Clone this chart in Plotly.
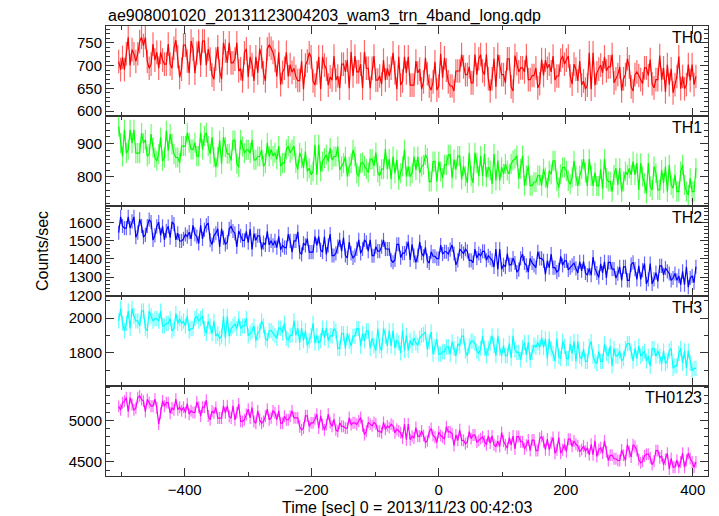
import plotly.graph_objects as go
from plotly.subplots import make_subplots

TITLE = "ae908001020_20131123004203_wam3_trn_4band_long.qdp"
X_TITLE = "Time [sec] 0 = 2013/11/23 00:42:03"
Y_TITLE = "Counts/sec"

T_START = -504   # first bin centre (s)
BIN_SEC = 3      # bin width (s)

BANDS = ["TH0", "TH1", "TH2", "TH3", "TH0123"]
COLORS = ["#ff0000", "#00ff00", "#0000ff", "#00ffff", "#ff00ff"]
ERR_COLORS = ["rgba(255,0,0,0.6)", "rgba(0,255,0,0.6)", "rgba(0,0,255,0.6)",
              "rgba(0,255,255,0.6)", "rgba(255,0,255,0.6)"]
ERRORS = [26, 30, 39, 44, 72]

Y_RANGES = [[589, 787], [713, 982], [1196, 1692], [1609, 2127], [4329, 5415]]
Y_DTICK = [50, 100, 100, 200, 500]
Y_MINOR = [10, 20, 20, 100, 100]

TH0 = [
    709, 691, 718, 691, 726, 762, 700, 735, 726, 709, 726, 753, 762, 744, 762, 709,
    694, 703, 747, 712, 729, 694, 729, 712, 703, 703, 747, 703, 694, 738, 756, 720,
    674, 692, 745, 745, 710, 683, 754, 736, 683, 727, 754, 701, 754, 754, 701, 736,
    714, 679, 670, 714, 741, 688, 670, 750, 732, 706, 750, 706, 706, 714, 750, 688,
    693, 666, 728, 737, 675, 719, 702, 666, 719, 684, 737, 719, 684, 666, 737, 746,
    738, 729, 711, 676, 729, 658, 685, 694, 729, 676, 702, 685, 694, 676, 667, 667,
    710, 648, 701, 710, 728, 719, 666, 657, 684, 719, 648, 719, 701, 692, 657, 675,
    668, 721, 668, 677, 650, 703, 703, 686, 712, 650, 730, 677, 721, 686, 686, 703,
    650, 730, 694, 694, 650, 694, 721, 668, 668, 677, 659, 712, 668, 694, 677, 694,
    728, 684, 648, 719, 657, 666, 719, 684, 719, 657, 657, 657, 710, 684, 692, 648,
    664, 717, 682, 655, 646, 664, 708, 646, 655, 726, 673, 717, 690, 664, 655, 655,
    644, 688, 688, 688, 724, 697, 680, 680, 697, 662, 662, 724, 680, 715, 724, 688,
    680, 724, 671, 644, 671, 715, 653, 724, 697, 680, 680, 662, 715, 715, 653, 644,
    722, 704, 686, 695, 695, 686, 722, 669, 669, 678, 678, 695, 651, 660, 713, 678,
    712, 694, 703, 686, 721, 668, 677, 677, 712, 721, 703, 712, 721, 677, 659, 703,
    692, 666, 710, 657, 666, 648, 657, 728, 648, 728, 657, 684, 692, 701, 684, 719,
    688, 697, 697, 724, 662, 671, 680, 697, 644, 671, 680, 715, 697, 653, 644, 680,
    686, 678, 669, 660, 695, 695, 678, 713, 660, 651, 669, 669, 722, 669, 695, 642,
    702, 658, 693, 640, 658, 676, 720, 649, 676, 649, 658, 702, 667, 702, 658, 676,
]

TH1 = [
    951, 901, 861, 941, 871, 881, 941, 901, 941, 871, 871, 871, 931, 901, 911, 861,
    868, 928, 888, 858, 848, 868, 918, 848, 858, 938, 878, 928, 898, 868, 858, 858,
    842, 892, 892, 892, 932, 902, 882, 882, 902, 862, 862, 932, 882, 922, 932, 892,
    869, 919, 859, 829, 859, 909, 839, 919, 889, 869, 869, 849, 909, 909, 839, 829,
    911, 891, 871, 881, 881, 871, 911, 851, 851, 861, 861, 881, 831, 841, 901, 861,
    882, 862, 872, 852, 892, 832, 842, 842, 882, 892, 872, 882, 892, 842, 822, 872,
    856, 826, 876, 816, 826, 806, 816, 896, 806, 896, 816, 846, 856, 866, 846, 886,
    851, 861, 861, 891, 821, 831, 841, 861, 801, 831, 841, 881, 861, 811, 801, 841,
    843, 833, 823, 813, 853, 853, 833, 873, 813, 803, 823, 823, 883, 823, 853, 793,
    861, 811, 851, 791, 811, 831, 881, 801, 831, 801, 811, 861, 821, 861, 811, 831,
    836, 866, 856, 786, 786, 846, 846, 786, 846, 816, 796, 836, 836, 866, 866, 796,
    852, 822, 862, 862, 792, 832, 802, 782, 872, 802, 782, 872, 842, 802, 862, 802,
    869, 799, 829, 819, 779, 869, 789, 849, 789, 829, 809, 839, 819, 809, 839, 849,
    854, 864, 794, 824, 864, 774, 804, 834, 774, 774, 784, 784, 804, 804, 774, 824,
    798, 768, 818, 808, 848, 848, 788, 768, 808, 828, 828, 818, 788, 778, 798, 848,
    803, 773, 803, 823, 853, 813, 773, 853, 803, 773, 813, 773, 773, 823, 763, 853,
    796, 786, 786, 756, 806, 826, 776, 826, 756, 786, 816, 806, 826, 806, 846, 806,
    841, 761, 841, 801, 781, 751, 841, 771, 761, 831, 811, 761, 761, 821, 781, 831,
    756, 836, 776, 766, 806, 756, 756, 816, 836, 776, 756, 746, 796, 756, 756, 826,
]

TH2 = [
    1545, 1632, 1582, 1570, 1570, 1632, 1570, 1607, 1632, 1520, 1545, 1619, 1582, 1520, 1533, 1582,
    1617, 1604, 1505, 1530, 1580, 1604, 1530, 1580, 1505, 1555, 1580, 1518, 1604, 1592, 1505, 1542,
    1499, 1499, 1511, 1536, 1523, 1548, 1511, 1585, 1536, 1523, 1486, 1585, 1511, 1561, 1585, 1598,
    1504, 1480, 1529, 1542, 1566, 1467, 1566, 1517, 1480, 1492, 1566, 1579, 1554, 1542, 1467, 1554,
    1528, 1503, 1503, 1552, 1490, 1565, 1453, 1540, 1503, 1528, 1528, 1453, 1490, 1478, 1552, 1478,
    1500, 1475, 1500, 1463, 1525, 1451, 1475, 1463, 1463, 1537, 1500, 1438, 1500, 1500, 1550, 1438,
    1425, 1487, 1475, 1512, 1438, 1438, 1438, 1524, 1475, 1524, 1450, 1438, 1524, 1425, 1475, 1537,
    1419, 1419, 1431, 1468, 1505, 1443, 1518, 1419, 1406, 1493, 1431, 1406, 1419, 1456, 1505, 1431,
    1455, 1505, 1492, 1443, 1505, 1418, 1418, 1468, 1443, 1443, 1468, 1505, 1455, 1455, 1455, 1393,
    1382, 1395, 1481, 1481, 1407, 1432, 1432, 1457, 1494, 1395, 1481, 1419, 1382, 1419, 1494, 1432,
    1415, 1464, 1390, 1378, 1440, 1415, 1415, 1402, 1402, 1477, 1427, 1440, 1440, 1427, 1452, 1477,
    1430, 1368, 1392, 1454, 1442, 1430, 1454, 1442, 1392, 1392, 1380, 1454, 1405, 1430, 1417, 1442,
    1442, 1393, 1418, 1405, 1393, 1356, 1455, 1343, 1455, 1343, 1368, 1356, 1430, 1368, 1368, 1405,
    1378, 1328, 1341, 1403, 1427, 1378, 1365, 1328, 1403, 1378, 1365, 1353, 1440, 1403, 1403, 1390,
    1315, 1390, 1352, 1427, 1352, 1352, 1328, 1340, 1414, 1365, 1390, 1390, 1340, 1352, 1365, 1377,
    1348, 1323, 1385, 1335, 1385, 1323, 1311, 1348, 1311, 1410, 1348, 1323, 1298, 1373, 1323, 1385,
    1295, 1381, 1381, 1344, 1344, 1295, 1319, 1357, 1282, 1357, 1357, 1282, 1282, 1369, 1381, 1344,
    1288, 1362, 1288, 1338, 1375, 1263, 1288, 1375, 1263, 1288, 1325, 1276, 1362, 1362, 1313, 1350,
    1332, 1320, 1282, 1295, 1320, 1282, 1307, 1258, 1332, 1258, 1357, 1245, 1295, 1307, 1270, 1357,
]

TH3 = [
    1984, 2055, 1970, 1927, 1970, 2041, 1941, 2055, 2012, 1984, 1984, 1955, 2041, 2041, 1941, 1927,
    2040, 2012, 1983, 1997, 1997, 1983, 2040, 1955, 1955, 1969, 1969, 1997, 1926, 1940, 2026, 1969,
    1997, 1968, 1982, 1954, 2011, 1925, 1940, 1940, 1997, 2011, 1982, 1997, 2011, 1940, 1911, 1982,
    1953, 1910, 1982, 1896, 1910, 1882, 1896, 2010, 1882, 2010, 1896, 1939, 1953, 1967, 1939, 1996,
    1941, 1955, 1955, 1998, 1898, 1913, 1927, 1955, 1870, 1913, 1927, 1984, 1955, 1884, 1870, 1927,
    1928, 1914, 1900, 1885, 1942, 1942, 1914, 1971, 1885, 1871, 1900, 1900, 1985, 1900, 1942, 1857,
    1942, 1870, 1927, 1842, 1870, 1899, 1970, 1856, 1899, 1856, 1870, 1942, 1885, 1942, 1870, 1899,
    1896, 1939, 1925, 1825, 1825, 1910, 1910, 1825, 1910, 1868, 1839, 1896, 1896, 1939, 1939, 1839,
    1912, 1869, 1926, 1926, 1826, 1883, 1840, 1812, 1940, 1840, 1812, 1940, 1897, 1840, 1926, 1840,
    1928, 1828, 1871, 1857, 1800, 1928, 1814, 1900, 1814, 1871, 1843, 1885, 1857, 1843, 1885, 1900,
    1906, 1920, 1820, 1863, 1920, 1792, 1835, 1877, 1792, 1792, 1806, 1806, 1835, 1835, 1792, 1863,
    1825, 1782, 1853, 1839, 1896, 1896, 1810, 1782, 1839, 1867, 1867, 1853, 1810, 1796, 1825, 1896,
    1827, 1784, 1827, 1855, 1898, 1841, 1784, 1898, 1827, 1784, 1841, 1784, 1784, 1855, 1770, 1898,
    1817, 1803, 1803, 1760, 1831, 1860, 1788, 1860, 1760, 1803, 1845, 1831, 1860, 1831, 1888, 1831,
    1880, 1766, 1880, 1823, 1795, 1752, 1880, 1780, 1766, 1866, 1837, 1766, 1766, 1852, 1795, 1866,
    1751, 1865, 1780, 1765, 1822, 1751, 1751, 1837, 1865, 1780, 1751, 1737, 1808, 1751, 1751, 1851,
    1796, 1782, 1839, 1725, 1825, 1782, 1782, 1810, 1753, 1768, 1825, 1853, 1853, 1810, 1753, 1825,
    1767, 1838, 1781, 1795, 1810, 1753, 1781, 1724, 1824, 1824, 1781, 1810, 1781, 1738, 1810, 1738,
    1754, 1811, 1825, 1711, 1725, 1725, 1797, 1825, 1740, 1811, 1711, 1811, 1740, 1697, 1711, 1711,
]

TH0123 = [
    5169, 5127, 5212, 5233, 5275, 5106, 5275, 5190, 5127, 5148, 5275, 5296, 5254, 5233, 5106, 5254,
    5214, 5171, 5171, 5256, 5150, 4955, 5087, 5235, 5171, 5214, 5214, 5087, 5150, 5129, 5256, 5129,
    5159, 5116, 5159, 5095, 5201, 5074, 5116, 5095, 5095, 5222, 5159, 5053, 5159, 5159, 5243, 5053,
    5007, 5113, 5091, 5155, 5028, 5028, 5028, 5176, 5091, 5176, 5049, 5028, 5176, 5007, 5091, 5197,
    4987, 4987, 5008, 5072, 5135, 5029, 5156, 4987, 4966, 5114, 5008, 4966, 4987, 5050, 5135, 5008,
    5030, 5114, 5093, 5008, 5114, 4966, 4966, 5051, 5008, 5008, 5051, 5114, 5030, 5030, 5030, 4924,
    4886, 4907, 5055, 5055, 4928, 4970, 4970, 5013, 5076, 4907, 5055, 4949, 4886, 4949, 5076, 4970,
    4928, 5013, 4886, 4865, 4971, 4928, 4928, 4907, 4907, 5034, 4950, 4971, 4971, 4950, 4992, 5034,
    4934, 4828, 4870, 4976, 4955, 4934, 4976, 4955, 4870, 4870, 4849, 4976, 4891, 4934, 4913, 4955,
    4935, 4850, 4893, 4872, 4850, 4787, 4956, 4766, 4956, 4766, 4808, 4787, 4914, 4808, 4808, 4872,
    4818, 4734, 4755, 4861, 4903, 4818, 4797, 4734, 4861, 4818, 4797, 4776, 4924, 4861, 4861, 4840,
    4696, 4823, 4759, 4886, 4759, 4759, 4717, 4738, 4865, 4780, 4823, 4823, 4738, 4759, 4780, 4802,
    4748, 4706, 4812, 4727, 4812, 4706, 4685, 4748, 4685, 4854, 4748, 4706, 4664, 4791, 4706, 4812,
    4657, 4805, 4805, 4742, 4742, 4657, 4699, 4763, 4636, 4763, 4763, 4636, 4636, 4784, 4805, 4742,
    4646, 4773, 4646, 4731, 4794, 4604, 4646, 4794, 4604, 4646, 4710, 4625, 4773, 4773, 4688, 4752,
    4712, 4691, 4627, 4648, 4691, 4627, 4670, 4585, 4712, 4585, 4754, 4564, 4648, 4670, 4606, 4754,
    4622, 4516, 4579, 4579, 4537, 4537, 4516, 4516, 4643, 4579, 4516, 4706, 4622, 4558, 4706, 4685,
    4635, 4529, 4487, 4508, 4572, 4593, 4593, 4550, 4466, 4508, 4635, 4635, 4550, 4572, 4466, 4529,
    4604, 4414, 4541, 4435, 4435, 4520, 4435, 4498, 4604, 4435, 4520, 4604, 4541, 4498, 4435, 4498,
]

SERIES = [TH0, TH1, TH2, TH3, TH0123]
TIME = [T_START + BIN_SEC * i for i in range(len(TH0))]

FONT = "Liberation Sans, Arial, Helvetica, sans-serif"

fig = make_subplots(rows=5, cols=1, shared_xaxes=True, vertical_spacing=0)

for i, (name, vals) in enumerate(zip(BANDS, SERIES)):
    fig.add_trace(
        go.Scatter(
            x=TIME, y=vals, mode="lines", name=name,
            line=dict(color=COLORS[i], width=1.2),
            error_y=dict(type="constant", value=ERRORS[i], color=ERR_COLORS[i],
                         thickness=1.2, width=0),
            showlegend=False,
        ),
        row=i + 1, col=1,
    )
    fig.update_yaxes(range=Y_RANGES[i], dtick=Y_DTICK[i], tick0=0,
                     minor=dict(ticks="inside", ticklen=4, dtick=Y_MINOR[i],
                                tickcolor="#333333"),
                     row=i + 1, col=1)

axis_style = dict(
    showline=True, linecolor="#333333", linewidth=1, mirror="allticks",
    ticks="inside", ticklen=8, tickwidth=1, tickcolor="#333333",
    showgrid=False, zeroline=False,
    tickfont=dict(family=FONT, size=15, color="black"),
)
fig.update_yaxes(**axis_style)
fig.update_xaxes(**axis_style)
fig.update_xaxes(range=[-524, 424], dtick=200, tick0=0,
                 minor=dict(ticks="inside", ticklen=4, dtick=100, tickcolor="#333333"))

ann = []
for i, name in enumerate(BANDS):
    ann.append(dict(
        text=name, xref="paper", yref="paper", x=1, y=1 - 0.2 * i,
        xanchor="right", yanchor="top", xshift=-4, yshift=-1, showarrow=False,
        font=dict(family=FONT, size=16, color="black"),
    ))
ann.append(dict(text=TITLE, xref="paper", yref="paper", x=0, y=1,
                xanchor="left", yanchor="bottom", xshift=0, yshift=-1, showarrow=False,
                font=dict(family=FONT, size=16, color="black")))
ann.append(dict(text=Y_TITLE, xref="paper", yref="paper", x=0, y=0.5,
                xanchor="center", yanchor="middle", xshift=-64, textangle=-90,
                showarrow=False, font=dict(family=FONT, size=16, color="black")))
ann.append(dict(text=X_TITLE, xref="paper", yref="paper", x=0.5, y=0,
                xanchor="center", yanchor="middle", yshift=-31,
                showarrow=False, font=dict(family=FONT, size=16, color="black")))

# the page body adds an 8 px offset, so the figure is sized to fit the window
fig.update_layout(
    width=711, height=508,
    margin=dict(l=98, r=11, t=18, b=40),
    paper_bgcolor="white", plot_bgcolor="white",
    annotations=ann,
    font=dict(family=FONT, color="black"),
)

fig.write_html("out.html")
